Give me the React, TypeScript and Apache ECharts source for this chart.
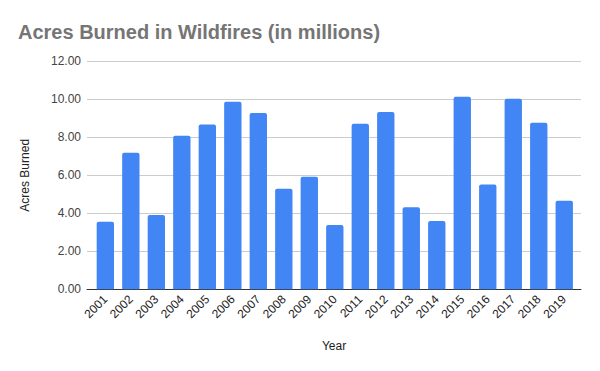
import React, { useEffect, useRef } from "react";
import * as echarts from "echarts";

const years = ["2001","2002","2003","2004","2005","2006","2007","2008","2009","2010","2011","2012","2013","2014","2015","2016","2017","2018","2019"];
const acres = [3.55, 7.19, 3.91, 8.08, 8.67, 9.87, 9.28, 5.29, 5.92, 3.39, 8.71, 9.33, 4.32, 3.6, 10.13, 5.51, 10.03, 8.77, 4.66];
const title = "Acres Burned in Wildfires (in millions)";
const yMin = 0;
const yMax = 12;
const yStep = 2;

export default function App() {
  const ref = useRef<HTMLDivElement>(null);
  useEffect(() => {
    const chart = echarts.init(ref.current!, null, { renderer: "svg" });
    const font = "Arial, 'Liberation Sans', sans-serif";
    chart.setOption({
      animation: false,
      backgroundColor: "#ffffff",
      textStyle: { fontFamily: font },
      title: {
        text: title,
        left: 13,
        top: 17,
        textStyle: { color: "#757575", fontSize: 20, fontWeight: "bold", fontFamily: font },
      },
      grid: [
        { left: 87, right: 19, top: 61.3, bottom: 81.7, containLabel: false },
        { left: 92.6, right: 23, top: 61.3, bottom: 81.7, containLabel: false },
      ],
      xAxis: [
        {
          type: "category",
          gridIndex: 0,
          data: years,
          axisLine: { lineStyle: { color: "#333", width: 1 } },
          axisTick: { show: false },
          axisLabel: { show: false },
          name: "Year",
          nameLocation: "middle",
          nameGap: 51,
          nameTextStyle: { color: "#222", fontSize: 12 },
        },
        {
          type: "category",
          gridIndex: 1,
          data: years,
          axisLine: { show: false },
          axisTick: { show: false },
          axisLabel: { rotate: 45, color: "#222", fontSize: 12, margin: 8, interval: 0 },
        },
      ],
      yAxis: [
        {
          type: "value",
          gridIndex: 0,
          min: yMin,
          max: yMax,
          interval: yStep,
          name: "Acres Burned",
          nameLocation: "middle",
          nameGap: 56,
          nameTextStyle: { color: "#222", fontSize: 12 },
          axisLine: { show: false },
          axisTick: { show: false },
          axisLabel: { color: "#444", fontSize: 12, margin: 6, formatter: (v: number) => v.toFixed(2) },
          splitLine: { lineStyle: { color: "#cccccc", width: 1 } },
        },
        {
          type: "value",
          gridIndex: 1,
          min: yMin,
          max: yMax,
          interval: yStep,
          axisLine: { show: false },
          axisTick: { show: false },
          axisLabel: { show: false },
          splitLine: { show: false },
        },
      ],
      series: [
        {
          type: "bar",
          xAxisIndex: 1,
          yAxisIndex: 1,
          data: acres,
          barWidth: "68%",
          itemStyle: { color: "#4285F4", borderRadius: [2, 2, 0, 0] },
        },
      ],
    });
    return () => chart.dispose();
  }, []);
  return <div ref={ref} style={{ width: 600, height: 371, position: "absolute", left: 0, top: 0 }} />;
}
